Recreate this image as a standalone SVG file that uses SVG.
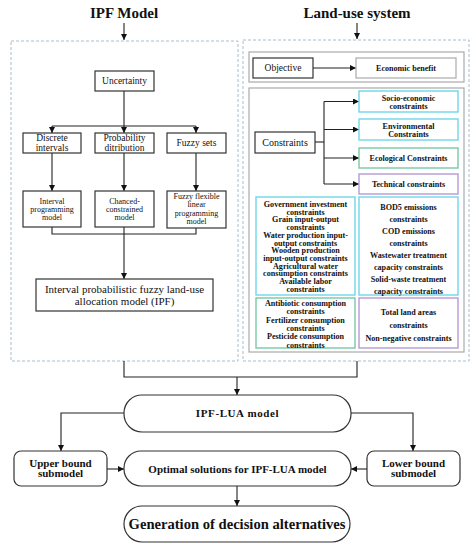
<svg xmlns="http://www.w3.org/2000/svg" width="476" height="550" viewBox="0 0 476 550">
<defs>
<marker id="ah" markerWidth="6" markerHeight="6" refX="6" refY="3" orient="auto" markerUnits="userSpaceOnUse">
<path d="M0,0 L6,3 L0,6 z" fill="#111"/>
</marker>
<style>
text{font-family:"Liberation Serif","Times New Roman",serif;fill:#111;text-anchor:middle}
.b{font-weight:bold}
.title{font-size:15px;font-weight:bold}
.dash{fill:none;stroke:#a9bccc;stroke-width:1;stroke-dasharray:3,2}
.dk{fill:#fff;stroke:#333;stroke-width:1.2}
.gr{fill:#fff;stroke:#aaa;stroke-width:1.2}
.cy{fill:#fff;stroke:#6fd6e8;stroke-width:1.4}
.gn{fill:#fff;stroke:#78c9a4;stroke-width:1.4}
.pu{fill:#fff;stroke:#b49bd4;stroke-width:1.4}
.ln{fill:none;stroke:#222;stroke-width:1.1}
.ar{fill:none;stroke:#222;stroke-width:1.1;marker-end:url(#ah)}
.s95{font-size:9.5px}
.s8{font-size:8px}
.s11{font-size:11px}
.sm{font-size:8.1px;font-weight:bold}
</style>
</defs>
<rect width="476" height="550" fill="#fff"/>

<g id="titles">
<text class="title" x="124" y="18">IPF Model</text>
<text class="title" x="357" y="18">Land-use system</text>
</g>

<g id="frames">
<rect class="dash" x="11" y="41" width="227" height="320"/>
<rect class="dash" x="243" y="40" width="226" height="321"/>
<rect class="gr" x="249" y="52" width="215" height="30"/>
<rect class="gr" x="249" y="88" width="215" height="264"/>
</g>

<g id="connectors">
<line class="ar" x1="124" y1="23" x2="124" y2="40"/>
<line class="ar" x1="357" y1="23" x2="357" y2="39"/>
<line class="ln" x1="124" y1="91" x2="124" y2="126"/>
<line class="ln" x1="52" y1="126" x2="196" y2="126"/>
<line class="ar" x1="52" y1="126" x2="52" y2="133"/>
<line class="ar" x1="124" y1="126" x2="124" y2="133"/>
<line class="ar" x1="196" y1="126" x2="196" y2="133"/>
<line class="ar" x1="52" y1="153" x2="52" y2="191"/>
<line class="ar" x1="124" y1="153" x2="124" y2="191"/>
<line class="ar" x1="196" y1="153" x2="196" y2="191"/>
<polyline class="ln" points="52,227 52,234 196,234 196,228"/>
<line class="ar" x1="124" y1="227" x2="124" y2="279"/>
<line class="ar" x1="313" y1="68" x2="356" y2="68"/>
<line class="ln" x1="315" y1="142" x2="324" y2="142"/>
<line class="ln" x1="324" y1="101.5" x2="324" y2="184"/>
<line class="ar" x1="324" y1="101.5" x2="359" y2="101.5"/>
<line class="ar" x1="324" y1="129.5" x2="359" y2="129.5"/>
<line class="ar" x1="324" y1="158" x2="359" y2="158"/>
<line class="ar" x1="324" y1="184" x2="359" y2="184"/>
<polyline class="ln" points="124,361 124,377 357,377 357,361"/>
<line class="ar" x1="237" y1="377" x2="237" y2="395"/>
<polyline class="ar" points="124,413 61,413 61,451"/>
<polyline class="ar" points="351,413 413,413 413,451"/>
<line class="ar" x1="107" y1="469" x2="124" y2="469"/>
<line class="ar" x1="367" y1="469" x2="351" y2="469"/>
<line class="ar" x1="237" y1="486" x2="237" y2="506"/>
</g>

<g id="uncertainty">
<rect class="dk" x="95" y="71" width="59" height="20"/>
<text class="s95" x="124.5" y="84">Uncertainty</text>
</g>
<g id="discrete">
<rect class="dk" x="23" y="133" width="58" height="20"/>
<text class="s95" x="52" y="141">Discrete</text>
<text class="s95" x="52" y="151">intervals</text>
</g>
<g id="probability">
<rect class="dk" x="95" y="133" width="59" height="20"/>
<text class="s95" x="124.5" y="141">Probability</text>
<text class="s95" x="124.5" y="151">ditribution</text>
</g>
<g id="fuzzy">
<rect class="dk" x="167" y="133" width="59" height="20"/>
<text class="s95" x="196.5" y="146">Fuzzy sets</text>
</g>
<g id="interval-model">
<rect class="dk" x="23" y="191" width="58" height="36"/>
<text class="s8" x="52" y="203.5">Interval</text>
<text class="s8" x="52" y="211.8">programming</text>
<text class="s8" x="52" y="220">model</text>
</g>
<g id="chance-model">
<rect class="dk" x="95" y="191" width="59" height="36"/>
<text class="s8" x="124.5" y="203.5">Chanced-</text>
<text class="s8" x="124.5" y="211.8">constrained</text>
<text class="s8" x="124.5" y="220">model</text>
</g>
<g id="fuzzy-model">
<rect class="dk" x="167" y="191" width="59" height="37"/>
<text class="s8" x="196.5" y="198.5">Fuzzy flexible</text>
<text class="s8" x="196.5" y="207">linear</text>
<text class="s8" x="196.5" y="215.5">programming</text>
<text class="s8" x="196.5" y="224">model</text>
</g>
<g id="ipf">
<rect class="dk" x="36" y="279" width="177" height="32"/>
<text class="s11" x="124.5" y="292.5">Interval probabilistic fuzzy land-use</text>
<text class="s11" x="124.5" y="304.5">allocation model (IPF)</text>
</g>

<g id="objective">
<rect class="dk" x="253" y="58" width="60" height="20"/>
<text class="s95" x="283" y="71">Objective</text>
</g>
<g id="economic">
<rect class="gr" x="356" y="58" width="100" height="20"/>
<text class="sm" x="406" y="70.5">Economic benefit</text>
</g>
<g id="constraints">
<rect class="dk" x="255" y="132" width="60" height="21"/>
<text style="font-size:10px" x="285" y="146">Constraints</text>
</g>
<g id="socio">
<rect class="cy" x="359" y="91" width="99" height="21"/>
<text class="sm" x="408.5" y="100.5">Socio-economic</text>
<text class="sm" x="408.5" y="109">constraints</text>
</g>
<g id="environmental">
<rect class="cy" x="359" y="119" width="99" height="21"/>
<text class="sm" x="408.5" y="128.5">Environmental</text>
<text class="sm" x="408.5" y="137">Constraints</text>
</g>
<g id="ecological">
<rect class="gn" x="359" y="148" width="99" height="20"/>
<text class="sm" x="408.5" y="160.5">Ecological Constraints</text>
</g>
<g id="technical">
<rect class="pu" x="359" y="174" width="99" height="20"/>
<text class="sm" x="408.5" y="187">Technical constraints</text>
</g>
<g id="socio-list">
<rect class="cy" x="256" y="197" width="99" height="98"/>
<text class="sm" x="305.5" y="206.8">Government investment</text>
<text class="sm" x="305.5" y="214.5">constraints</text>
<text class="sm" x="305.5" y="222.3">Grain input-output</text>
<text class="sm" x="305.5" y="230">constraints</text>
<text class="sm" x="305.5" y="237.7">Water production input-</text>
<text class="sm" x="305.5" y="245.5">output constraints</text>
<text class="sm" x="305.5" y="253.2">Wooden production</text>
<text class="sm" x="305.5" y="260.9">input-output constraints</text>
<text class="sm" x="305.5" y="268.6">Agricultural water</text>
<text class="sm" x="305.5" y="276.4">consumption constraints</text>
<text class="sm" x="305.5" y="284.1">Available labor</text>
<text class="sm" x="305.5" y="291.8">constraints</text>
</g>
<g id="env-list">
<rect class="cy" x="359" y="197" width="99" height="98"/>
<text class="sm" x="408.5" y="209.7">BOD5 emissions</text>
<text class="sm" x="408.5" y="221.7">constraints</text>
<text class="sm" x="408.5" y="233.8">COD emissions</text>
<text class="sm" x="408.5" y="245.8">constraints</text>
<text class="sm" x="408.5" y="257.9">Wastewater treatment</text>
<text class="sm" x="408.5" y="269.9">capacity constraints</text>
<text class="sm" x="408.5" y="282">Solid-waste treatment</text>
<text class="sm" x="408.5" y="294">capacity constraints</text>
</g>
<g id="eco-list">
<rect class="gn" x="256" y="298" width="99" height="50"/>
<text class="sm" x="305.5" y="305.8">Antibiotic consumption</text>
<text class="sm" x="305.5" y="314.2">constraints</text>
<text class="sm" x="305.5" y="322.6">Fertilizer consumption</text>
<text class="sm" x="305.5" y="331">constraints</text>
<text class="sm" x="305.5" y="339.4">Pesticide consumption</text>
<text class="sm" x="305.5" y="347.8">constraints</text>
</g>
<g id="tech-list">
<rect class="pu" x="359" y="298" width="99" height="50"/>
<text class="sm" x="408.5" y="314.8">Total land areas</text>
<text class="sm" x="408.5" y="327.8">constraints</text>
<text class="sm" x="408.5" y="340.8">Non-negative constraints</text>
</g>

<g id="ipf-lua">
<rect class="dk" x="124" y="395" width="227" height="37" rx="18"/>
<text class="b" style="font-size:11px;letter-spacing:0.6px" x="237.5" y="417">IPF-LUA model</text>
</g>
<g id="upper">
<rect class="dk" x="14" y="451" width="93" height="35" rx="7"/>
<text class="b s11" x="60.5" y="466.5">Upper bound</text>
<text class="b s11" x="60.5" y="477">submodel</text>
</g>
<g id="optimal">
<rect class="dk" x="124" y="451" width="227" height="35" rx="17"/>
<text class="b s11" x="237.5" y="472.5">Optimal solutions for IPF-LUA model</text>
</g>
<g id="lower">
<rect class="dk" x="367" y="451" width="93" height="35" rx="7"/>
<text class="b s11" x="413.5" y="466.5">Lower bound</text>
<text class="b s11" x="413.5" y="477">submodel</text>
</g>
<g id="generation">
<rect class="dk" x="124" y="506" width="226" height="36" rx="18"/>
<text class="b" style="font-size:14.6px" x="237" y="529">Generation of decision alternatives</text>
</g>
</svg>
